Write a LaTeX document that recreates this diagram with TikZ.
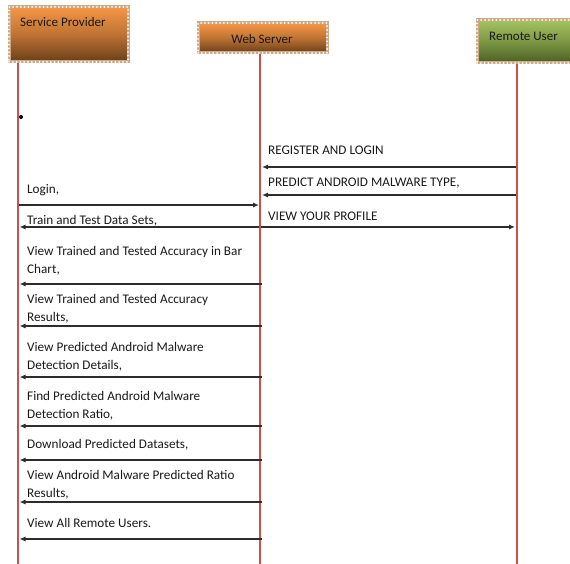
\documentclass[tikz,border=0pt]{standalone}
\usepackage{fontspec}
\setmainfont{Carlito}
\usetikzlibrary{arrows.meta}
\definecolor{orTop}{RGB}{246,150,70}
\definecolor{orBot}{RGB}{105,62,24}
\definecolor{grTop}{RGB}{165,195,95}
\definecolor{grBot}{RGB}{75,95,35}
\definecolor{tanB}{RGB}{205,170,135}
\definecolor{lifeC}{RGB}{200,80,78}
\definecolor{msgC}{RGB}{45,45,45}
\tikzset{
  actorbox/.style={rectangle, draw=tanB, line width=3pt, inner sep=0pt,
    postaction={draw=white, line width=2pt, dash pattern=on 0pt off 3.8pt, line cap=round}},
  orangebox/.style={actorbox, top color=orTop, bottom color=orBot, middle color={orTop!60!orBot}},
  greenbox/.style={actorbox, top color=grTop, bottom color=grBot, middle color={grTop!55!grBot}},
  boxtext/.style={inner sep=0pt, font=\fontsize{13pt}{15pt}\selectfont, text=black!90},
  lifeline/.style={draw=lifeC, line width=2.4pt},
  msg/.style={draw=msgC, line width=1.1pt, -{Latex[length=6pt,width=5pt]}},
  lbl/.style={inner sep=0pt, anchor=base west, align=left, font=\fontsize{13.2pt}{18pt}\selectfont, text=black!90}
}
\begin{document}
\begin{tikzpicture}[x=1pt,y=-1pt]
\useasboundingbox (0,0) rectangle (570,564);
% actor boxes
\node[orangebox, minimum width=119pt, minimum height=55pt] (sp) at (68.5,34.5) {};
\node[boxtext, anchor=base west] (sptxt) at (20,27) {Service Provider};
\node[orangebox, minimum width=129pt, minimum height=30pt] (ws) at (262.5,38) {};
\node[boxtext] (wstxt) at (262,39) {Web Server};
\node[greenbox, minimum width=106pt, minimum height=43pt] (ru) at (530,41.5) {};
\node[boxtext, anchor=base west] (rutxt) at (489,40.5) {Remote User};
% lifelines
\coordinate (spB) at (18,564);
\coordinate (wsB) at (260,564);
\coordinate (ruB) at (517,564);
\draw[lifeline] (sp.south -| spB) -- (spB);
\draw[lifeline] (ws.south -| wsB) -- (wsB);
\draw[lifeline] (ru.south -| ruB) -- (ruB);
% bullet
\fill (21,117) circle (2pt);
% message end points
\coordinate (r1) at (516,167); \coordinate (w1) at (262,167);
\coordinate (r2) at (516,195); \coordinate (w2) at (262,195);
\coordinate (s3) at (19,205); \coordinate (w3) at (259,205);
\coordinate (w4) at (259,227); \coordinate (s4) at (19.5,227);
\coordinate (w5) at (261,227); \coordinate (r5) at (515,227);
\coordinate (w6) at (262,284); \coordinate (s6) at (19.5,284);
\coordinate (w7) at (262,326); \coordinate (s7) at (19.5,326);
\coordinate (w8) at (262,377); \coordinate (s8) at (19.5,377);
\coordinate (w9) at (262,426); \coordinate (s9) at (19.5,426);
\coordinate (w10) at (262,460); \coordinate (s10) at (19.5,460);
\coordinate (w11) at (262,502); \coordinate (s11) at (19.5,502);
\coordinate (w12) at (262,539); \coordinate (s12) at (19.5,539);
% messages
\draw[msg] (r1) -- (w1);
\draw[msg] (r2) -- (w2);
\draw[msg] (s3) -- (w3);
\draw[msg] (w4) -- (s4);
\draw[msg] (w5) -- (r5);
\draw[msg] (w6) -- (s6);
\draw[msg] (w7) -- (s7);
\draw[msg] (w8) -- (s8);
\draw[msg] (w9) -- (s9);
\draw[msg] (w10) -- (s10);
\draw[msg] (w11) -- (s11);
\draw[msg] (w12) -- (s12);
% labels (base anchor = last line)
\node[lbl] (l1) at (268,155) {REGISTER AND LOGIN};
\node[lbl] (l2) at (268,186) {PREDICT ANDROID MALWARE TYPE,};
\node[lbl] (l3) at (27,194) {Login,};
\node[lbl] (l4) at (27,224) {Train and Test Data Sets,};
\node[lbl] (l5) at (268,220) {VIEW YOUR PROFILE};
\node[lbl] (l6) at (27,273) {View Trained and Tested Accuracy in Bar\\Chart,};
\node[lbl] (l7) at (27,321) {View Trained and Tested Accuracy\\Results,};
\node[lbl] (l8) at (27,369) {View Predicted Android Malware\\Detection Details,};
\node[lbl] (l9) at (27,418) {Find Predicted Android Malware\\Detection Ratio,};
\node[lbl] (l10) at (27,448) {Download Predicted Datasets,};
\node[lbl] (l11) at (27,497) {View Android Malware Predicted Ratio\\Results,};
\node[lbl] (l12) at (27,527) {View All Remote Users.};
\end{tikzpicture}
\end{document}
